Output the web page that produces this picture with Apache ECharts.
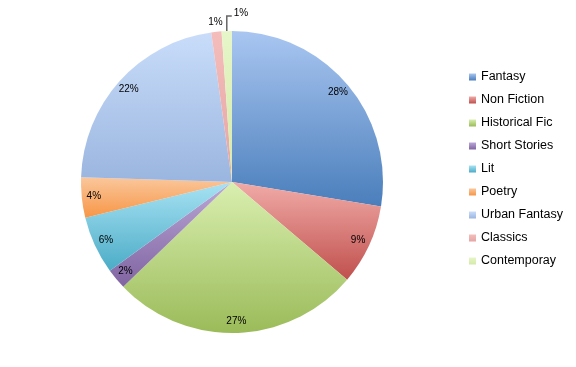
<!DOCTYPE html>
<html>
<head>
<meta charset="utf-8">
<script src="https://cdn.jsdelivr.net/npm/echarts@6/dist/echarts.min.js"></script>
<style>html,body{margin:0;padding:0;background:#fff}#c{width:576px;height:367px}</style>
</head>
<body>
<div id="c"></div>
<script>
var categories = ['Fantasy','Non Fiction','Historical Fic','Short Stories','Lit','Poetry','Urban Fantasy','Classics','Contemporay'];
var values = [27.6, 8.6, 26.6, 2.2, 6.2, 4.3, 22.3, 1.1, 1.1];
var colorTop = ['#a9c6f1','#f1aba8','#d9efb0','#bba8d6','#a8e2f4','#fac79c','#c9ddfa','#f4bdbb','#e6f6c9'];
var colorBottom = ['#4a7ebb','#c0504d','#9bbb59','#8064a2','#4bacc6','#f79646','#9ab5df','#e5a5a3','#d5e9a8'];

function grad(i){
  return new echarts.graphic.LinearGradient(0,0,0,1,[{offset:0,color:colorTop[i]},{offset:1,color:colorBottom[i]}]);
}
var fmt = function(p){ return Math.round(p.percent) + '%'; };
var R = 151, CX = 232, CY = 182;

var mainData = categories.map(function(n,i){
  var d = {name:n, value:values[i], itemStyle:{color:grad(i)}};
  if (i >= 7) {
    d.label = {show:true, position:'outside'};
    d.labelLine = {show: i === 8, length:8, length2:6, lineStyle:{color:'#666', width:1.5}};
  } else {
    d.label = {show:false};
    d.labelLine = {show:false};
  }
  return d;
});
var overlayData = categories.map(function(n,i){
  return {name:n, value:values[i], label:{show:i < 7}};
});

var chart = echarts.init(document.getElementById('c'), null, {renderer:'canvas'});
chart.setOption({
  animation:false,
  backgroundColor:'#fff',
  legend:{
    orient:'vertical', left:464, top:65,
    data:categories,
    icon:'rect', itemWidth:7, itemHeight:7, itemGap:9,
    textStyle:{fontFamily:'Liberation Sans', fontSize:12.5, color:'#000', lineHeight:14},
    selectedMode:false
  },
  series:[
    {
      type:'pie', center:[CX,CY], radius:[0,R], startAngle:90, clockwise:true,
      avoidLabelOverlap:false, silent:true,
      data:mainData,
      itemStyle:{borderWidth:0},
      label:{formatter:fmt, fontFamily:'Liberation Sans', fontSize:10, color:'#000'},
      labelLayout:function(p){
        var pts = p.labelLinePoints;
        var p0 = pts && pts[0] ? pts[0] : null;
        if (p.dataIndex === 7 && p0) {
          return {x:p0[0]-1, y:p0[1]-10, align:'center', verticalAlign:'middle'};
        }
        if (p.dataIndex === 8 && p0) {
          var top = p0[1]-15;
          return {x:p0[0]+7, y:top-3, align:'left', verticalAlign:'middle',
            labelLinePoints:[[p0[0],p0[1]],[p0[0],top],[p0[0]+5,top]]};
        }
        return {};
      }
    },
    {
      type:'pie', center:[CX,CY], radius:[R*0.8,R], startAngle:90, clockwise:true,
      avoidLabelOverlap:false, silent:true,
      data:overlayData,
      itemStyle:{color:'rgba(0,0,0,0)', borderWidth:0},
      labelLine:{show:false},
      label:{position:'inside', formatter:fmt, fontFamily:'Liberation Sans', fontSize:10, color:'#000'}
    }
  ]
});
</script>
</body>
</html>
